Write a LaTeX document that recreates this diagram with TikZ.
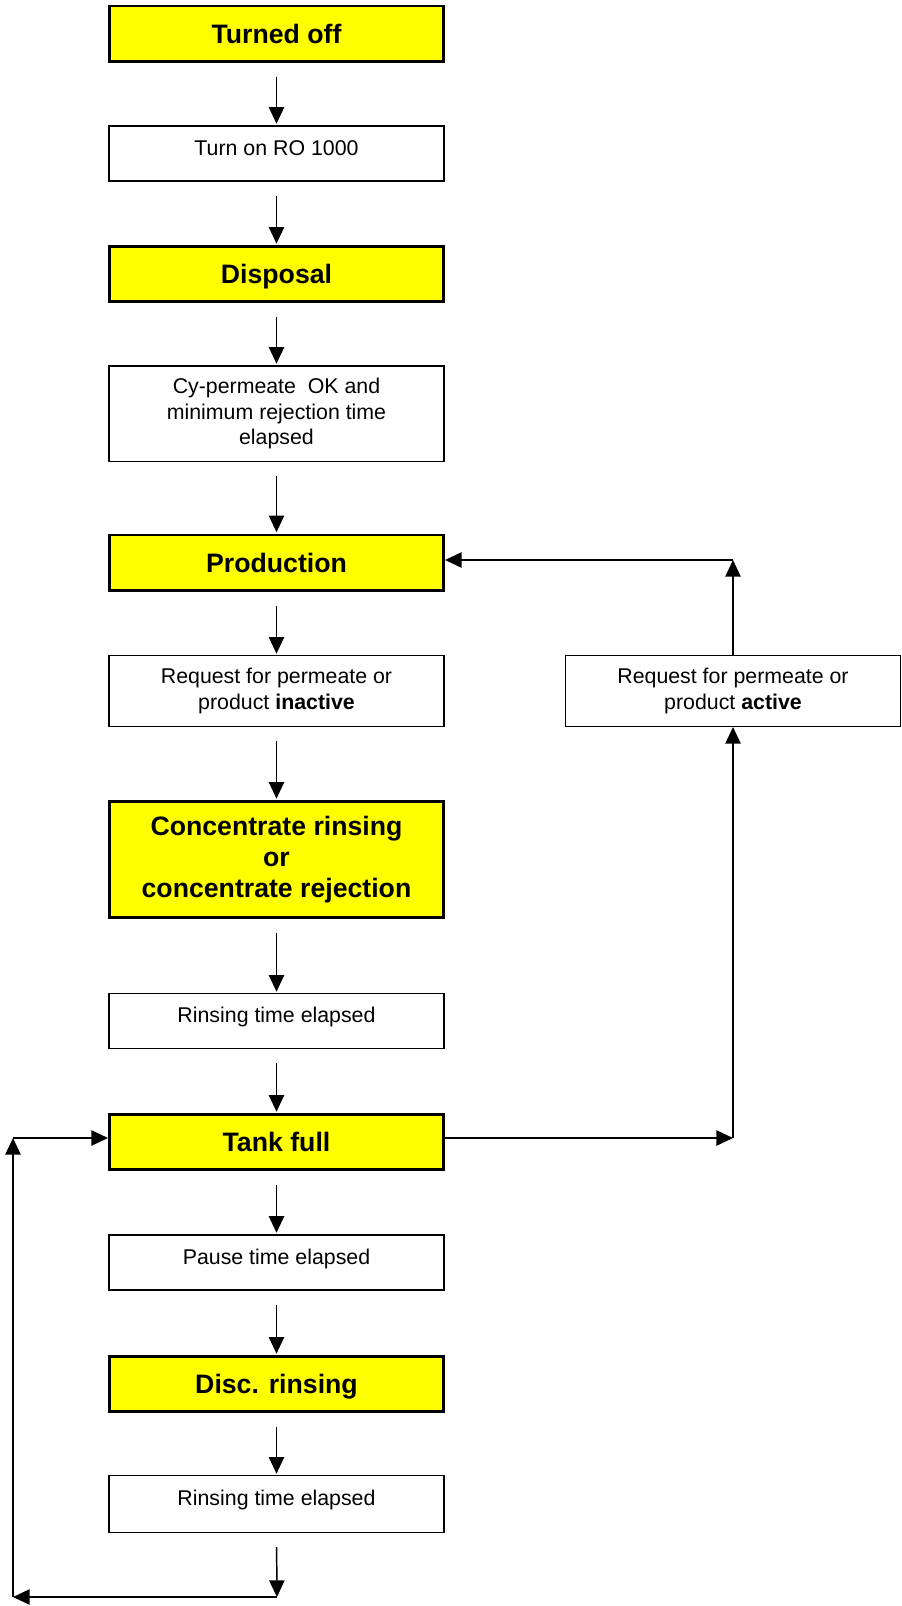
\documentclass[tikz,border=0pt]{standalone}
\usepackage{fontspec}
\setmainfont{Liberation Sans}
\usetikzlibrary{arrows.meta}
\definecolor{stateyellow}{RGB}{255,255,0}
\tikzset{
  state/.style={draw, line width=2.2pt, fill=stateyellow, minimum width=250.5pt,
    minimum height=41.3pt, inner sep=0pt, align=center,
    font=\fontsize{20}{23.5}\selectfont\bfseries},
  statetall/.style={state, minimum height=87pt},
  cond/.style={draw, line width=1.1pt, fill=white, minimum width=251.5pt,
    minimum height=41.5pt, inner sep=0pt, align=center,
    font=\fontsize{16}{19}\selectfont},
  condline/.style={cond, text height=11.8pt, text depth=9.3pt},
  arr/.style={-{Triangle[length=12.5pt,width=11.5pt]}, line width=1.1pt},
  gap/.style={shorten <=10.5pt, shorten >=1pt},
}
\begin{document}
\begin{tikzpicture}[x=0.75pt,y=-0.75pt]
  \useasboundingbox (0,0) rectangle (902,1606);
  \draw
    (276.5,33.5) node[state, text height=14.5pt, text depth=0pt] (off){Turned off}
    (276.5,153.5) node[condline] (on){Turn on RO 1000}
    (276.5,274) node[state, text height=14.5pt, text depth=0pt] (disp){Disposal}
    (276.5,413.5) node[cond, minimum height=71.6pt] (cyok){Cy-permeate\ \ OK and\\minimum rejection time\\elapsed}
    (276.5,562.5) node[state, text height=14.5pt, text depth=0pt] (prod){Production}
    (276.5,691) node[cond, minimum height=52.9pt] (inact){Request for permeate or\\product \textbf{inactive}}
    (733,691) node[cond, minimum height=52.9pt] (act){Request for permeate or\\product \textbf{active}}
    (276.5,859.5) node[statetall] (conc){Concentrate rinsing\\or\\concentrate rejection}
    (276.5,1021) node[condline, minimum height=40.9pt] (rins){Rinsing time elapsed}
    (276.5,1142) node[state, text height=14.5pt, text depth=0pt] (tank){Tank full}
    (276.5,1262.5) node[condline] (pause){Pause time elapsed}
    (276.5,1384) node[state, text height=14.5pt, text depth=0pt] (disc){Disc. rinsing}
    (276.5,1504) node[condline, minimum height=42.4pt] (rinsb){Rinsing time elapsed};
  \coordinate (up) at (733,560);
  \coordinate (rt) at (733,1138);
  \coordinate (dn) at (277,1597);
  \coordinate (dl) at (13,1597);
  \coordinate (ul) at (13,1138);
  \begin{scope}[arr]
    \draw[gap] (off) to (on);
    \draw[gap] (on) to (disp);
    \draw[gap] (disp) to (cyok);
    \draw[gap] (cyok) to (prod);
    \draw[gap] (prod) to (inact);
    \draw[gap] (inact) to (conc);
    \draw[gap] (conc) to (rins);
    \draw[gap] (rins) to (tank);
    \draw[gap] (tank) to (pause);
    \draw[gap] (pause) to (disc);
    \draw[gap] (disc) to (rinsb);
    \draw[shorten <=10.5pt] (rinsb.south) to (dn);
    \draw (dn) to (dl);
    \draw (dl) to (ul);
    \draw (ul) to (ul -| tank.west);
    \draw (rt -| tank.east) to (rt);
    \draw (rt) to (act.south);
    \draw (act.north) to (up);
    \draw (up) to (up -| prod.east);
  \end{scope}
\end{tikzpicture}
\end{document}
